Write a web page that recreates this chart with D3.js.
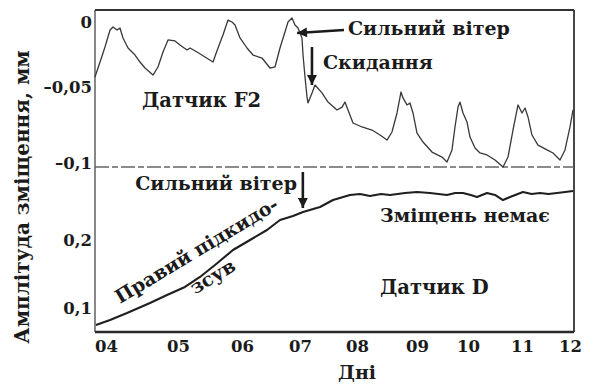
<!DOCTYPE html>
<html>
<head>
<meta charset="utf-8">
<script src="https://cdn.jsdelivr.net/npm/d3@7"></script>
<style>
  html, body { margin: 0; padding: 0; background: #fff; }
  svg { display: block; }
  text { font-family: "DejaVu Serif", "Liberation Serif", serif; font-weight: bold; fill: #1b1b1b; }
</style>
</head>
<body>
<svg id="chart" width="594" height="384"></svg>
<script>
// Days on the x axis
const dayTicks = [4, 5, 6, 7, 8, 9, 10, 11, 12];
const dayLabels = ["04", "05", "06", "07", "08", "09", "10", "11", "12"];

// Sensor F2 (upper panel): amplitude, mm
const f2Days = [3.847, 3.917, 3.986, 4.056, 4.097, 4.153, 4.194, 4.236, 4.306, 4.403, 4.472, 4.542,
  4.653, 4.722, 4.792, 4.861, 4.958, 5.031, 5.141, 5.188, 5.297, 5.422, 5.547, 5.625, 5.703, 5.781,
  5.844, 5.891, 5.969, 6.086, 6.190, 6.345, 6.483, 6.569, 6.655, 6.741, 6.793, 6.862, 6.914, 6.966,
  7.035, 7.053, 7.088, 7.123, 7.140, 7.211, 7.263, 7.386, 7.491, 7.649, 7.737, 7.789, 7.842, 7.930,
  8.083, 8.250, 8.383, 8.500, 8.583, 8.667, 8.733, 8.767, 8.833, 8.883, 8.933, 9.000, 9.118, 9.294,
  9.490, 9.588, 9.686, 9.745, 9.804, 9.843, 9.902, 9.980, 10.037, 10.130, 10.222, 10.352, 10.500,
  10.648, 10.741, 10.833, 10.926, 11.000, 11.063, 11.125, 11.208, 11.333, 11.521, 11.646, 11.792,
  11.896, 12.000, 12.063];
const f2Values = [-0.0423, -0.0308, -0.0192, -0.0062, -0.0038, -0.0062, -0.0046, -0.0123, -0.0200,
  -0.0254, -0.0308, -0.0354, -0.0408, -0.0346, -0.0231, -0.0138, -0.0146, -0.0177, -0.0215, -0.0200,
  -0.0231, -0.0269, -0.0308, -0.0200, -0.0100, 0.0015, 0.0000, -0.0023, -0.0123, -0.0200, -0.0254,
  -0.0277, -0.0354, -0.0346, -0.0200, -0.0077, 0.0000, 0.0031, -0.0023, -0.0046, -0.0123, -0.0254,
  -0.0423, -0.0566, -0.0605, -0.0539, -0.0485, -0.0539, -0.0599, -0.0651, -0.0632, -0.0599, -0.0651,
  -0.0737, -0.0763, -0.0783, -0.0816, -0.0849, -0.0796, -0.0671, -0.0533, -0.0572, -0.0618, -0.0605,
  -0.0671, -0.0803, -0.0862, -0.0928, -0.0961, -0.0993, -0.0914, -0.0763, -0.0632, -0.0599, -0.0671,
  -0.0730, -0.0829, -0.0901, -0.0934, -0.0947, -0.0980, -0.1026, -0.0961, -0.0783, -0.0618, -0.0671,
  -0.0638, -0.0697, -0.0816, -0.0882, -0.0914, -0.0934, -0.0980, -0.0914, -0.0763, -0.0651];

// Sensor D (lower panel): amplitude, mm
const dDays = [3.861, 4.056, 4.292, 4.611, 4.847, 5.109, 5.344, 5.578, 5.859, 6.138, 6.431, 6.655,
  6.879, 7.053, 7.351, 7.579, 7.877, 8.050, 8.217, 8.400, 8.550, 8.800, 9.000, 9.255, 9.420, 9.588,
  9.750, 9.902, 10.050, 10.167, 10.352, 10.500, 10.648, 10.778, 11.021, 11.200, 11.375, 11.550,
  11.729, 11.900, 12.063];
const dValues = [0.0750, 0.0824, 0.0926, 0.1074, 0.1191, 0.1309, 0.1456, 0.1632, 0.1853, 0.2000,
  0.2147, 0.2294, 0.2353, 0.2412, 0.2485, 0.2588, 0.2662, 0.2676, 0.2647, 0.2676, 0.2662, 0.2691,
  0.2706, 0.2691, 0.2676, 0.2662, 0.2691, 0.2691, 0.2662, 0.2632, 0.2691, 0.2662, 0.2588, 0.2632,
  0.2706, 0.2676, 0.2691, 0.2676, 0.2691, 0.2706, 0.2721];

// Axis ticks
const f2Ticks = [0, -0.05, -0.1];
const f2TickLabels = ["0", "–0,05", "–0,1"];
const dTicks = [0.1, 0.2];
const dTickLabels = ["0,1", "0,2"];

const svg = d3.select("#chart");
const frame = { left: 95, right: 574, top: 10, bottom: 332, split: 167 };

// The day axis of the original plot is unevenly spaced, so the scale is polylinear.
const x = d3.scaleLinear().domain(dayTicks).range([106, 178, 242, 300, 357, 417, 468, 522, 570]);
const yTop = d3.scaleLinear().domain([0, -0.05, -0.1]).range([22, 87, 163]);
const yBot = d3.scaleLinear().domain([0.1, 0.2]).range([308, 240]);

// Frame
svg.append("line").attr("x1", frame.left).attr("x2", frame.left)
  .attr("y1", frame.top).attr("y2", frame.bottom)
  .attr("stroke", "#6a6a6a").attr("stroke-width", 1.6);
svg.append("line").attr("x1", frame.left).attr("x2", frame.right)
  .attr("y1", frame.top).attr("y2", frame.top)
  .attr("stroke", "#333").attr("stroke-width", 2);
svg.append("line").attr("x1", frame.right).attr("x2", frame.right)
  .attr("y1", frame.top).attr("y2", frame.bottom)
  .attr("stroke", "#333").attr("stroke-width", 1.8);
svg.append("line").attr("x1", frame.left).attr("x2", frame.right)
  .attr("y1", frame.bottom).attr("y2", frame.bottom)
  .attr("stroke", "#2a2a2a").attr("stroke-width", 2.4);
// Panel divider
svg.append("line").attr("x1", frame.left).attr("x2", frame.right)
  .attr("y1", frame.split).attr("y2", frame.split)
  .attr("stroke", "#666").attr("stroke-width", 1.3)
  .attr("stroke-dasharray", "14 3 6 3");

// Axes
const axisLeftTop = d3.axisLeft(yTop).tickValues(f2Ticks)
  .tickFormat((d, i) => f2TickLabels[i]).tickSize(0).tickPadding(3);
const axisLeftBot = d3.axisLeft(yBot).tickValues(dTicks)
  .tickFormat((d, i) => dTickLabels[i]).tickSize(0).tickPadding(3);
const axisX = d3.axisBottom(x).tickValues(dayTicks)
  .tickFormat((d, i) => dayLabels[i]).tickSize(0).tickPadding(8);

function styleAxis(g) {
  g.select(".domain").remove();
  g.selectAll("text").attr("font-family", "DejaVu Serif").attr("font-weight", "bold")
    .attr("font-size", 16.5).attr("fill", "#1b1b1b");
}
svg.append("g").attr("transform", `translate(${frame.left},0)`).call(axisLeftTop).call(styleAxis);
svg.append("g").attr("transform", `translate(${frame.left},0)`).call(axisLeftBot).call(styleAxis);
svg.append("g").attr("transform", `translate(0,${frame.bottom})`).call(axisX).call(styleAxis);

// Data lines
const f2Line = d3.line().x(d => x(d[0])).y(d => yTop(d[1]));
svg.append("path").datum(d3.zip(f2Days, f2Values))
  .attr("d", f2Line).attr("fill", "none")
  .attr("stroke", "#383838").attr("stroke-width", 1.3).attr("stroke-linejoin", "round");

const dLine = d3.line().x(d => x(d[0])).y(d => yBot(d[1]));
svg.append("path").datum(d3.zip(dDays, dValues))
  .attr("d", dLine).attr("fill", "none")
  .attr("stroke", "#1f1f1f").attr("stroke-width", 2.1).attr("stroke-linejoin", "round");

// Arrow heads
svg.append("defs").append("marker")
  .attr("id", "head").attr("viewBox", "0 0 10 10")
  .attr("refX", 10).attr("refY", 5)
  .attr("markerWidth", 4.4).attr("markerHeight", 3.8)
  .attr("orient", "auto")
  .append("path").attr("d", "M0,0 L10,5 L0,10 Z").attr("fill", "#1b1b1b");

function arrow(x1, y1, x2, y2) {
  svg.append("line").attr("x1", x1).attr("y1", y1).attr("x2", x2).attr("y2", y2)
    .attr("stroke", "#1b1b1b").attr("stroke-width", 2.6)
    .attr("marker-end", "url(#head)");
}

// Annotations, upper panel
arrow(344, 30, x(6.95), 33);
arrow(x(7.21), 47, x(7.21), 85);
svg.append("text").attr("x", 348).attr("y", 35).attr("font-size", 19).text("Сильний вітер");
svg.append("text").attr("x", 323).attr("y", 69).attr("font-size", 19).text("Скидання");
svg.append("text").attr("x", 142).attr("y", 107).attr("font-size", 19.5).text("Датчик F2");

// Annotations, lower panel
arrow(x(7.05), 172, x(7.05), 208);
svg.append("text").attr("x", 297).attr("y", 190).attr("font-size", 19)
  .attr("text-anchor", "end").text("Сильний вітер");
svg.append("text").attr("x", 380).attr("y", 222).attr("font-size", 19).text("Зміщень немає");
svg.append("text").attr("x", 380).attr("y", 294).attr("font-size", 19.5).text("Датчик D");
svg.append("text").attr("transform", "translate(200,256) rotate(-31)")
  .attr("text-anchor", "middle").attr("font-size", 19).text("Правий підкидо-");
svg.append("text").attr("transform", "translate(216,282) rotate(-31)")
  .attr("text-anchor", "middle").attr("font-size", 19).text("зсув");

// Axis titles
svg.append("text").attr("x", 357).attr("y", 379).attr("text-anchor", "middle")
  .attr("font-size", 19).text("Дні");
svg.append("text").attr("transform", "translate(29,197) rotate(-90)")
  .attr("text-anchor", "middle").attr("font-size", 20).text("Амплітуда зміщення, мм");
</script>
</body>
</html>
